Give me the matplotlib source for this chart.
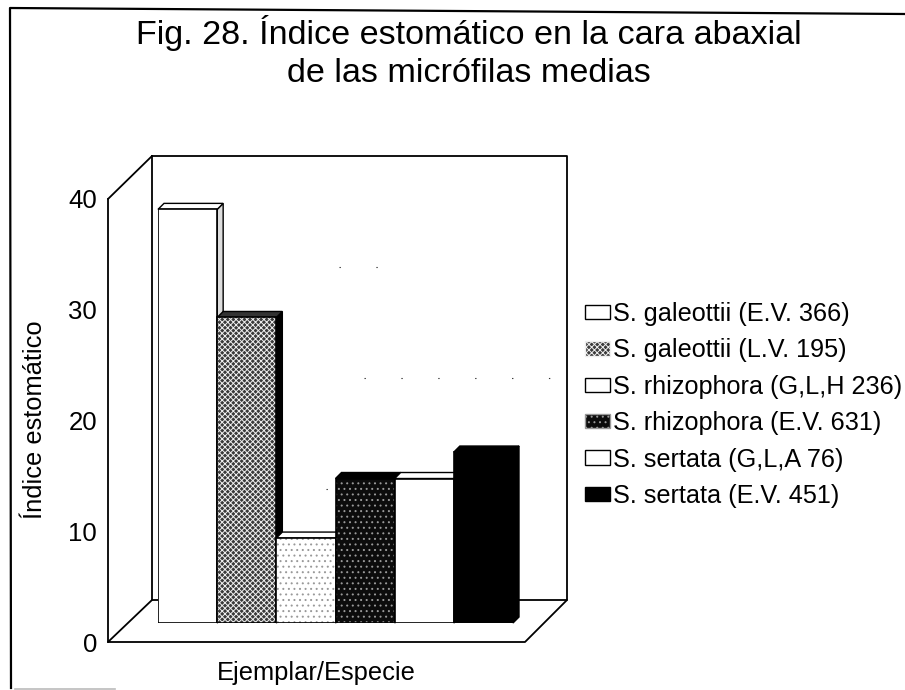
import matplotlib
matplotlib.use("Agg")
import matplotlib.pyplot as plt
from matplotlib.patches import Polygon, Patch

plt.rcParams['font.family'] = ['Liberation Sans', 'DejaVu Sans']
plt.rcParams['hatch.linewidth'] = 0.7

# ---------- data ----------
series_labels = ["S. galeottii (E.V. 366)", "S. galeottii (L.V. 195)",
                 "S. rhizophora (G,L,H 236)", "S. rhizophora (E.V. 631)",
                 "S. sertata (G,L,A 76)", "S. sertata (E.V. 451)"]
values = [37.5, 27.7, 7.7, 13.1, 13.1, 15.5]
y_ticks = [0, 10, 20, 30, 40]
title_text = "Fig. 28. Índice estomático en la cara abaxial\nde las micrófilas medias"
y_label = "Índice estomático"
x_label = "Ejemplar/Especie"

# ---------- styles ----------
face = ["white", "#3a3a3a", "white", "#0c0c0c", "white", "black"]
hatch = [None, "xxxxxx", "...", "...", None, None]
hatch_col = ["black", "#efefef", "#999999", "#999999", "black", "black"]
side = ["#dddddd", "black", "white", "black", "white", "black"]
top = ["white", "#333333", "white", "black", "white", "black"]

W, H = 905, 690
fig = plt.figure(figsize=(W / 100, H / 100), dpi=100, facecolor="white")

def box(x0, y0, x1, y1):
    return [x0 / W, 1 - y1 / H, (x1 - x0) / W, (y1 - y0) / H]

# page / wall layer in pixel coordinates
bg = fig.add_axes([0, 0, 1, 1], zorder=0)
bg.set_xlim(0, W); bg.set_ylim(H, 0); bg.axis("off")
lk = dict(color="black", lw=1.3, solid_capstyle="round")
bg.plot([11, 10, W], [688, 8, 14], color="black", lw=1.6)
bg.plot([15, 115], [689, 689], color="#bbbbbb", lw=1.2)
bg.plot([152, 567, 567, 525, 108, 152, 152], [156, 156, 600, 642, 642, 600, 156], **lk)
bg.plot([108, 152], [199, 156], **lk)
bg.plot([152, 567], [600, 600], **lk)

# sparse remains of the gridlines on the back wall
wall = fig.add_axes(box(152, 156, 567, 600), zorder=1)
wall.set_xlim(0, 1); wall.set_ylim(0, 40); wall.axis("off")
for v, (a, b) in {30: (0.45, 0.58), 20: (0.51, 1.0), 10: (0.42, 0.9)}.items():
    wall.plot([a, b], [v, v], color="#333333", lw=0.8, dashes=(1.2, 32))

# value axis on the front edge
front = fig.add_axes(box(108, 199, 108.01, 642), zorder=1)
front.set_ylim(0, 40); front.set_xticks([]); front.set_yticks(y_ticks)
front.tick_params(axis="y", length=0, pad=8, labelsize=18.5)
front.patch.set_alpha(0)
for s in ("top", "right", "bottom"):
    front.spines[s].set_visible(False)
front.spines["left"].set_linewidth(1.3)

# bars
ax = fig.add_axes(box(158, 181.8, 513, 623), zorder=2)
ax.set_xlim(0, 6); ax.set_ylim(0, 40); ax.axis("off"); ax.patch.set_alpha(0)
dx, dy = 6 / 59.17, 6 / 11.03
handles = []
for i, (v, f, h, hc, sd, tp) in enumerate(zip(values, face, hatch, hatch_col, side, top)):
    z = 3 + i * 2
    ax.add_patch(Polygon([(i + 1, 0), (i + 1 + dx, dy), (i + 1 + dx, v + dy), (i + 1, v)],
                         facecolor=sd, edgecolor="black", lw=1.0, zorder=z, clip_on=False))
    ax.add_patch(Polygon([(i, v), (i + dx, v + dy), (i + 1 + dx, v + dy), (i + 1, v)],
                         facecolor=tp, edgecolor="black", lw=1.0, zorder=z, clip_on=False))
    ax.bar(i + 0.5, v, width=1, facecolor=f, edgecolor=hc, hatch=h, lw=0, zorder=z + 0.5)
    ax.bar(i + 0.5, v, width=1, fill=False, edgecolor="black", lw=1.2, zorder=z + 1)
    plain = f == "white"
    handles.append(Patch(facecolor=f, edgecolor="black" if plain else hc,
                         hatch=None if plain else h, lw=1.0, label=series_labels[i]))

fig.legend(handles=handles, loc="upper left", bbox_to_anchor=(585 / W, 1 - 302 / H),
           frameon=False, fontsize=18.2, handlelength=1.0, handleheight=0.5,
           handletextpad=0.12, labelspacing=0.49, borderpad=0, borderaxespad=0)

fig.text(469 / W, 1 - 82 / H, title_text, ha="center", va="baseline", fontsize=24.6,
         linespacing=1.28)
fig.text(35 / W, 1 - 420 / H, y_label, rotation=90, ha="center", va="center", fontsize=18.4)
fig.text(316 / W, 1 - 673 / H, x_label, ha="center", va="center", fontsize=18.4)

fig.savefig("out.png", dpi=100, facecolor="white")
